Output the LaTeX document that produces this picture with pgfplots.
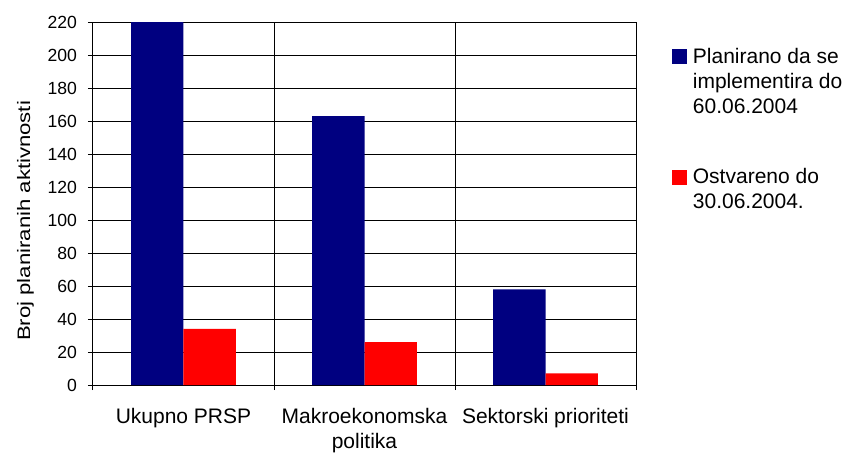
\documentclass[border=0pt]{standalone}
\usepackage{fontspec}
\setmainfont{Liberation Sans}
\newfontfamily\ylabfont[FakeStretch=1.23]{Liberation Sans}
\usepackage{pgfplots}
\pgfplotsset{compat=1.18}
\definecolor{navyb}{RGB}{0,0,128}
\definecolor{redb}{RGB}{255,0,0}
\begin{document}
\begin{tikzpicture}
\useasboundingbox (-46.5pt,-33.5pt) rectangle (376pt,192.5pt);
\begin{axis}[
  at={(0pt,0pt)}, anchor=south west,
  scale only axis, width=271.5pt, height=181.5pt,
  clip=false,
  xmin=-0.5, xmax=2.5, ymin=0, ymax=220,
  ybar=0pt, bar width=0.29,
  xtick={-0.5,0.5,1.5,2.5}, xticklabels={},
  xmajorgrids,
  extra x ticks={0,1,2},
  extra x tick labels={Ukupno PRSP, Makroekonomska\\politika, Sektorski prioriteti},
  extra x tick style={major tick length=0pt, grid=none,
    xticklabel style={font=\fontsize{10.5}{12.5}\selectfont, align=center, yshift=-8pt}},
  ytick={0,20,...,220}, ymajorgrids,
  grid style={black, line width=0.5pt},
  tick align=outside, tick pos=left,
  major tick length=2.5pt,
  every tick/.style={black, line width=0.5pt},
  axis line style={black, line width=0.5pt},
  /pgf/number format/assume math mode=true,
  yticklabel style={font=\fontsize{8.8}{10.5}\selectfont, xshift=-2pt},
  ylabel={Broj planiranih aktivnosti},
  ylabel style={font=\ylabfont\fontsize{9}{11}\selectfont, at={(ticklabel cs:0.452)}},
  legend style={draw=none, fill=none, at={(1.0663,0.9366)}, anchor=north west,
    inner sep=0pt,
    nodes={align=left, inner sep=1.25pt, font=\fontsize{10.5}{12.5}\selectfont},
    row sep=23.5pt, column sep=1.5pt},
  legend cell align=left,
]
\addplot[fill=navyb, draw=none,
  legend image code/.code={\fill[navyb] (0pt,8.8pt) rectangle (7.5pt,16.3pt);}]
  coordinates {(0,220) (1,163) (2,58)};
\addlegendentry{Planirano da se\\implementira do\\60.06.2004}
\addplot[fill=redb, draw=none,
  legend image code/.code={\fill[redb] (0pt,2.4pt) rectangle (7.5pt,9.9pt);}]
  coordinates {(0,34) (1,26) (2,7)};
\addlegendentry{Ostvareno do\\30.06.2004.}
\end{axis}
\end{tikzpicture}
\end{document}
